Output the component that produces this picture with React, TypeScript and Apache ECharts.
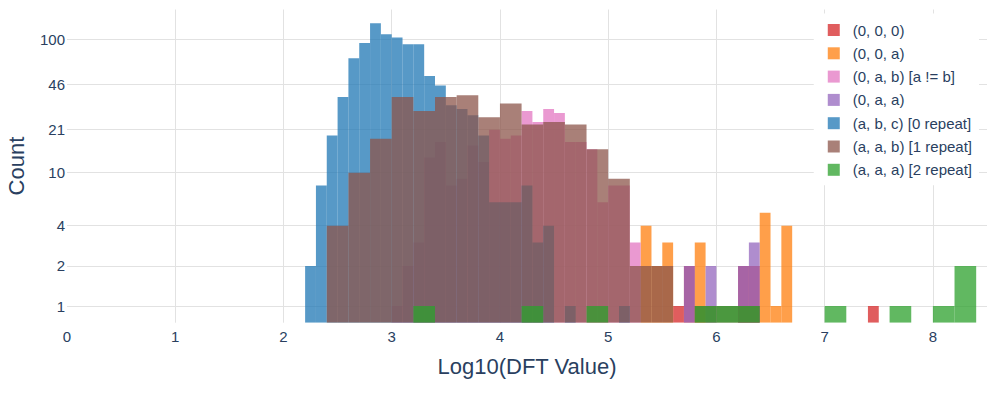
import React, { useEffect, useRef } from "react";
import * as echarts from "echarts";

const X_TICKS = [0, 1, 2, 3, 4, 5, 6, 7, 8];
const Y_TICKS = [1, 2, 4, 10, 21, 46, 100];
const X_MIN = 0;
const X_MAX = 8.5;
const Y_MIN = 0.75;
const Y_MAX = 167.3;

const SERIES_NAMES = [
  "(0, 0, 0)",
  "(0, 0, a)",
  "(0, a, b) [a != b]",
  "(0, a, a)",
  "(a, b, c) [0 repeat]",
  "(a, a, b) [1 repeat]",
  "(a, a, a) [2 repeat]",
];
const SERIES_RGB = [
  [214, 39, 40],
  [255, 127, 14],
  [227, 119, 194],
  [148, 103, 189],
  [31, 119, 180],
  [140, 86, 75],
  [44, 160, 44],
];

// (0, 0, 0)
const RED_START = [5.6, 5.7, 6.2, 6.3, 7.4];
const RED_COUNT = [1, 2, 2, 2, 1];
const RED_WIDTH = 0.1;

// (0, 0, a)
const ORANGE_START = [5.3, 5.4, 5.5, 5.8, 6.4, 6.5, 6.6];
const ORANGE_COUNT = [4, 2, 3, 3, 5, 1, 4];
const ORANGE_WIDTH = 0.1;

// (0, a, b) [a != b]
const PINK_START = [3.0, 3.1, 3.2, 3.3, 3.4, 3.5, 3.6, 3.7, 3.8, 3.9, 4.0, 4.1, 4.2, 4.3, 4.4, 4.5, 4.6, 4.7, 4.8, 4.9, 5.0, 5.1, 5.2];
const PINK_COUNT = [1, 2, 3, 13, 17, 8, 9, 16, 12, 21, 18, 19, 29, 24, 30, 28, 17, 17, 15, 6, 8, 8, 3];
const PINK_WIDTH = 0.1;

// (0, a, a)
const PURPLE_START = [5.7, 5.9, 6.2, 6.3];
const PURPLE_COUNT = [2, 2, 2, 3];
const PURPLE_WIDTH = 0.1;

// (a, b, c) [0 repeat]
const BLUE_START = [2.2, 2.3, 2.4, 2.5, 2.6, 2.7, 2.8, 2.9, 3.0, 3.1, 3.2, 3.3, 3.4, 3.5, 3.6, 3.7, 3.8, 3.9, 4.0, 4.1, 4.2, 4.3, 4.4, 4.6, 5.1];
const BLUE_COUNT = [2, 8, 19, 37, 72, 94, 132, 109, 103, 92, 92, 53, 45, 32, 30, 27, 19, 6, 6, 6, 8, 3, 4, 1, 1];
const BLUE_WIDTH = 0.1;

// (a, a, b) [1 repeat]
const BROWN_START = [2.4, 2.6, 2.8, 3.0, 3.2, 3.4, 3.6, 3.8, 4.0, 4.2, 4.4, 4.6, 4.8, 5.0, 5.2, 5.4, 5.8, 6.0, 6.2];
const BROWN_COUNT = [4, 10, 18, 37, 29, 37, 38, 26, 33, 23, 24, 23, 15, 9, 2, 2, 1, 1, 1];
const BROWN_WIDTH = 0.2;

// (a, a, a) [2 repeat]
const GREEN_START = [3.2, 4.2, 4.8, 5.8, 6.0, 6.2, 7.0, 7.6, 8.0, 8.2];
const GREEN_COUNT = [1, 1, 1, 1, 1, 1, 1, 1, 1, 2];
const GREEN_WIDTH = 0.2;

const SERIES_DATA = [
  [RED_START, RED_COUNT, RED_WIDTH],
  [ORANGE_START, ORANGE_COUNT, ORANGE_WIDTH],
  [PINK_START, PINK_COUNT, PINK_WIDTH],
  [PURPLE_START, PURPLE_COUNT, PURPLE_WIDTH],
  [BLUE_START, BLUE_COUNT, BLUE_WIDTH],
  [BROWN_START, BROWN_COUNT, BROWN_WIDTH],
  [GREEN_START, GREEN_COUNT, GREEN_WIDTH],
] as [number[], number[], number][];

const FONT = "'Liberation Sans', Arial, Helvetica, sans-serif";
const TEXT_COLOR = "#2a3f5f";
const GRID_COLOR = "#e2e2e2";

export default function App() {
  const ref = useRef<HTMLDivElement>(null);

  useEffect(() => {
    if (!ref.current) return;
    const chart = echarts.init(ref.current, undefined, { renderer: "svg" });
    const yMinLog = Math.log10(Y_MIN);

    const series = SERIES_NAMES.map((name, i) => {
      const [starts, counts, width] = SERIES_DATA[i];
      const [r, g, b] = SERIES_RGB[i];
      return {
        type: "custom",
        name,
        clip: true,
        itemStyle: { color: `rgba(${r},${g},${b},0.75)` },
        encode: { x: [0, 1], y: 2 },
        data: starts.map((s, k) => [s, s + width, Math.log10(counts[k])]),
        renderItem: (params: any, api: any) => {
          const x0 = api.value(0);
          const x1 = api.value(1);
          const ly = api.value(2);
          const tl = api.coord([x0, ly]);
          const br = api.coord([x1, yMinLog]);
          return {
            type: "rect",
            shape: { x: tl[0], y: tl[1], width: br[0] - tl[0], height: br[1] - tl[1] },
            style: { fill: api.visual("color") },
          };
        },
      };
    });

    chart.setOption({
      animation: false,
      backgroundColor: "#ffffff",
      textStyle: { fontFamily: FONT, color: TEXT_COLOR },
      grid: { left: 67, right: 10, top: 9.5, bottom: 76.3, outerBoundsMode: "none" },
      legend: {
        orient: "vertical",
        right: 18,
        top: 13.5,
        itemWidth: 12,
        itemHeight: 12,
        itemGap: 8.3,
        icon: "rect",
        backgroundColor: "#ffffff",
        padding: [9, 7, 8, 14],
        textStyle: { fontSize: 15, color: TEXT_COLOR, fontFamily: FONT, padding: [0, 0, 0, 8] },
        data: SERIES_NAMES,
      },
      xAxis: {
        type: "value",
        min: X_MIN,
        max: X_MAX,
        name: "Log10(DFT Value)",
        nameLocation: "middle",
        nameGap: 33,
        nameTextStyle: { fontSize: 22, color: TEXT_COLOR, fontFamily: FONT },
        axisLine: { show: false },
        axisTick: { show: false, customValues: X_TICKS.filter((v) => v > 0) },
        axisLabel: {
          customValues: X_TICKS,
          fontSize: 15,
          color: TEXT_COLOR,
          fontFamily: FONT,
          margin: 6,
          formatter: (v: number) => String(Math.round(v)),
        },
        splitLine: { show: true, lineStyle: { color: GRID_COLOR, width: 1 } },
      },
      yAxis: {
        type: "value",
        min: yMinLog,
        max: Math.log10(Y_MAX),
        name: "Count",
        nameLocation: "middle",
        nameGap: 40,
        nameTextStyle: { fontSize: 22, color: TEXT_COLOR, fontFamily: FONT },
        axisLine: { show: false },
        axisTick: { show: false, customValues: Y_TICKS.map((v) => Math.log10(v)) },
        axisLabel: {
          customValues: Y_TICKS.map((v) => Math.log10(v)),
          fontSize: 15,
          color: TEXT_COLOR,
          fontFamily: FONT,
          margin: 2,
          formatter: (v: number) => String(Math.round(Math.pow(10, v))),
        },
        splitLine: { show: true, lineStyle: { color: GRID_COLOR, width: 1 } },
      },
      series,
    });

    return () => chart.dispose();
  }, []);

  return <div ref={ref} style={{ width: 997, height: 399, position: "absolute", left: 0, top: 0 }} />;
}
